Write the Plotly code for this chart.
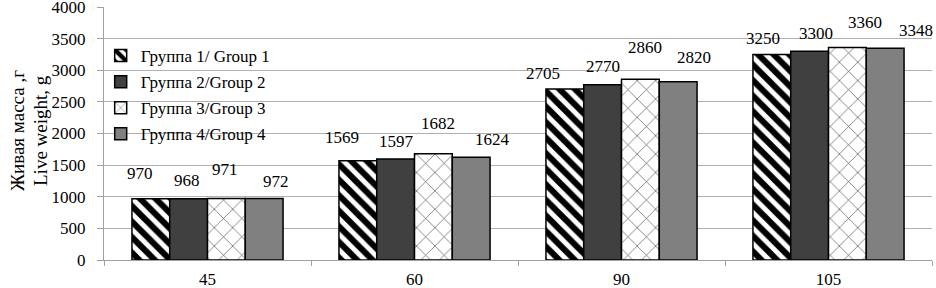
import plotly.graph_objects as go

days = ["45", "60", "90", "105"]
group_names = ["Группа 1/ Group 1", "Группа 2/Group 2", "Группа 3/Group 3", "Группа 4/Group 4"]
group1 = [970, 1569, 2705, 3250]
group2 = [968, 1597, 2770, 3300]
group3 = [971, 1682, 2860, 3360]
group4 = [972, 1624, 2820, 3348]
series = [group1, group2, group3, group4]
y_ticks = [0, 500, 1000, 1500, 2000, 2500, 3000, 3500, 4000]

# label placement tweaks (pixels): [group][day]
label_dx = [[-11, -16, -22, -9], [-2, 1, 0, 6], [-1, 5, 5, 18], [12, 21, 16, 31]]
label_dy = [[25, 23, 15, 16], [18, 18, 18, 18], [29, 30, 32, 25], [17, 18, 24, 18]]

FONT = "Liberation Serif"
styles = [
    dict(color="white", pattern=dict(shape="\\", fgcolor="black", fgopacity=1, bgcolor="white", size=11, solidity=0.55, fillmode="overlay")),
    dict(color="#404040"),
    dict(color="white", pattern=dict(shape="x", fgcolor="#505050", fgopacity=1, bgcolor="white", size=13, solidity=0.1, fillmode="overlay")),
    dict(color="#808080"),
]

fig = go.Figure()
for i, (name, vals) in enumerate(zip(group_names, series)):
    fig.add_trace(go.Bar(
        x=days, y=vals, name=name, legendgroup=str(i), hoverinfo="skip",
        marker=dict(**styles[i], line=dict(color="black", width=1.5)),
    ))

W = 828
cat_w = W / 4
bargap = 0.27
bar_w = cat_w * (1 - bargap) / 4
annotations = []
for i, vals in enumerate(series):
    for k, v in enumerate(vals):
        annotations.append(dict(
            x=k, y=v, xref="x", yref="y", text=str(v), showarrow=False,
            xshift=(i - 1.5) * bar_w + label_dx[i][k], yshift=label_dy[i][k],
            font=dict(family=FONT, size=17, color="black"),
            xanchor="center", yanchor="middle",
        ))
for txt, px in [("Живая масса ,г", 17), ("Live weight, g", 40)]:
    annotations.append(dict(text=txt, x=(px - 104) / W, y=(260 - 131) / 253, xref="paper", yref="paper",
                            showarrow=False, textangle=-90, xanchor="center", yanchor="middle",
                            font=dict(family=FONT, size=19, color="black")))

fig.update_layout(
    width=936, height=288,
    margin=dict(l=104, r=4, t=7, b=28, autoexpand=False),
    paper_bgcolor="white", plot_bgcolor="white",
    barmode="group", bargap=bargap, bargroupgap=0,
    font=dict(family=FONT, size=17, color="black"),
    showlegend=True, hovermode=False,
    legend=dict(x=-0.004, y=(260 - 38) / 253, xanchor="left", yanchor="top",
                bgcolor="rgba(0,0,0,0)", font=dict(family=FONT, size=17, color="black"),
                tracegroupgap=1, itemclick=False),
    annotations=annotations,
    shapes=[dict(type="rect", xref="paper", yref="y", x0=(118 - 104) / W, x1=(292 - 104) / W,
                 y0=1707, y1=3447, fillcolor="white", line=dict(width=0), layer="between")],
)
fig.update_xaxes(
    type="category", range=[-0.5, 3.5], autorange=False, automargin=False,
    showline=True, linecolor="#a0a0a0", linewidth=1,
    ticks="outside", tickson="boundaries", ticklen=5, tickcolor="#a0a0a0", tickangle=0,
    showgrid=False, tickfont=dict(family=FONT, size=17, color="black"),
    ticklabelstandoff=4,
)
fig.update_yaxes(
    range=[0, 4001], autorange=False, automargin=False, tickvals=y_ticks,
    showline=True, linecolor="#a0a0a0", linewidth=1,
    ticks="outside", ticklen=6, tickcolor="#a0a0a0",
    showgrid=True, gridcolor="#b0b0b0", gridwidth=1, zeroline=False,
    tickfont=dict(family=FONT, size=17, color="black"), ticklabelstandoff=8,
    ticklabeloverflow="allow",
)
fig.write_html("out.html", config={"displayModeBar": False, "staticPlot": True},
               post_script="document.body.style.margin='0';")
